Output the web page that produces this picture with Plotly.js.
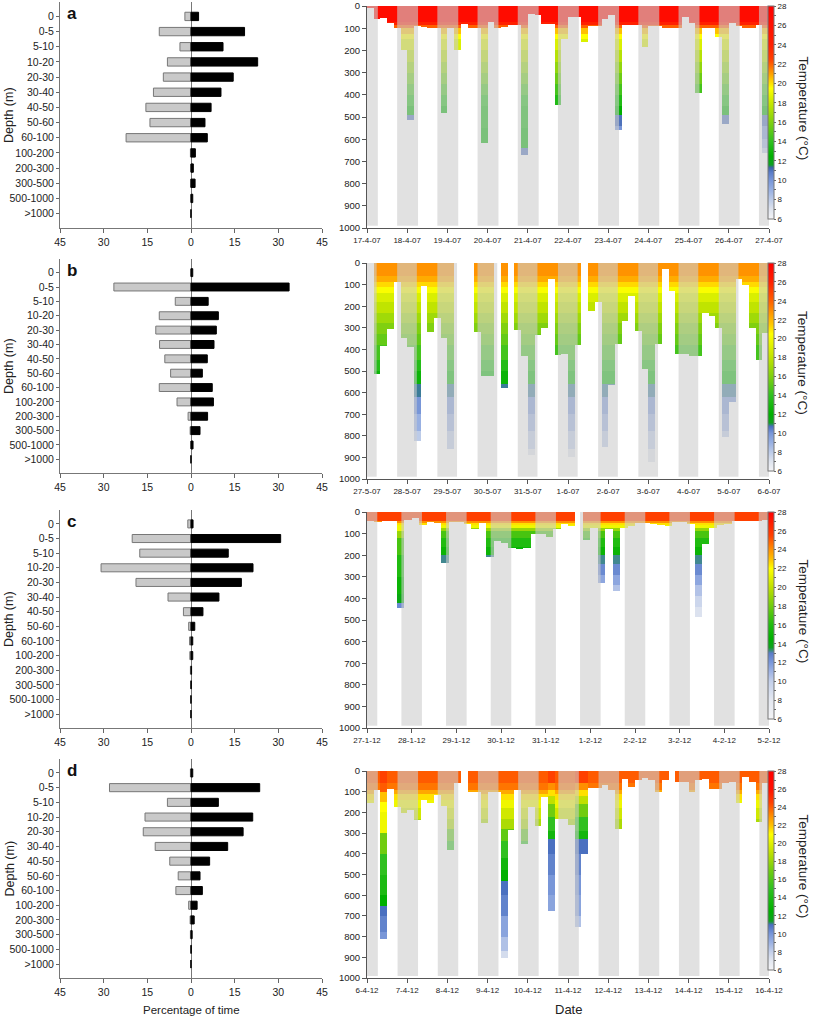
<!DOCTYPE html>
<html><head><meta charset="utf-8">
<script src="https://cdn.plot.ly/plotly-3.0.1.min.js"></script>
<style>html,body{margin:0;padding:0;background:#fff}</style>
</head><body>
<div id="chart" style="width:813px;height:1019px"></div>
<script>
// ---------- DATA ----------
const depthBins = ['0','0-5','5-10','10-20','20-30','30-40','40-50','50-60','60-100','100-200','200-300','300-500','500-1000','>1000'];

// Percentage of time (night = grey, day = black)
const nightA = [2.1,10.9,3.8,8.1,9.5,12.9,15.5,14.1,22.3,0.2,0,0.1,0,0];
const dayA   = [2.6,18.4,11.0,22.9,14.5,10.3,6.9,4.8,5.6,1.5,0.8,1.4,0.6,0];
const nightB = [0,26.5,5.4,10.9,12.1,10.8,9.0,7.0,10.9,4.8,1.0,0.3,0,0];
const dayB   = [0.6,33.7,5.9,9.4,8.7,7.9,5.6,3.9,7.3,7.7,5.7,3.1,0.7,0];
const nightC = [1.1,20.2,17.6,30.9,18.9,7.9,2.6,0.8,0.5,0.4,0.2,0.1,0,0];
const dayC   = [0.7,30.8,12.8,21.3,17.3,9.6,4.1,1.3,0.6,0.6,0.2,0.1,0,0];
const nightD = [0.2,28.0,8.1,15.8,16.4,12.3,7.3,4.4,5.2,0.8,0.3,0.2,0.1,0];
const dayD   = [0.6,23.6,9.4,21.2,17.9,12.6,6.4,3.1,3.9,2.1,1.1,0.4,0.1,0];

// Date tick labels
const datesA = ['17-4-07','18-4-07','19-4-07','20-4-07','21-4-07','22-4-07','23-4-07','24-4-07','25-4-07','26-4-07','27-4-07'];
const datesB = ['27-5-07','28-5-07','29-5-07','30-5-07','31-5-07','1-6-07','2-6-07','3-6-07','4-6-07','5-6-07','6-6-07'];
const datesC = ['27-1-12','28-1-12','29-1-12','30-1-12','31-1-12','1-2-12','2-2-12','3-2-12','4-2-12','5-2-12'];
const datesD = ['6-4-12','7-4-12','8-4-12','9-4-12','10-4-12','11-4-12','12-4-12','13-4-12','14-4-12','15-4-12','16-4-12'];

// Maximum depth (m) per 4-hour bin
const maxDepthA = [10,60,57,75,100,200, 515,90,95,100,100,480, 100,200,80,100,100,615, 70,100,95,85,85,672,
  35,40,80,80,445,150, 50,50,160,90,90,60, 40,560,85,85,85,185, 90,90,100,100,100,50,
  75,390,100,100,140,530, 75,90,100,100,85,660];
const maxDepthB = [null,515,385,305,90,347, 388,827,106,322,254,347, 858,null,null,null,318,524, 524,null,578,null,308,430,
  890,334,300,75,427,422, 900,380,null,220,180,850, 565,375,270,157,316,491, 920,373,31,131,419,420,
  430,430,231,245,300,805, 645,75,100,300,450,325];
const maxDepthC = [40,45,40,40,445,35, 30,60,45,50,235,45, 45,55,80,50,210,135, 145,165,170,165,100,100,
  115,80,55,65,null,130, 75,330,80,365,75,65, 50,50,55,60,65,45, 45,55,485,150,75,60, 55,40,40,40,40,35];
const maxDepthD = [155,90,810,85,175,205, 190,235,140,155,115,170, 380,60,null,100,100,250, 100,100,905,285,90,355,
  175,265,125,675,230,230, 260,755,400,80,80,70, 90,280,40,75,45,35, 45,100,45,null,55,55,
  100,45,40,85,85,60, 55,155,30,55,245,60];

// Water temperature profiles (layer top depth, m -> temperature, degC)
const profDepthA = [0,70,85,100,125,150,200,250,300,350,400,450,490,540,600,640];
const profTempA  = [26.5,24,22,20.5,19.5,18.5,17.5,16.5,15.5,14.5,13.5,12.5,11.0,10.0,9.0,8.0];
const altDepthA  = [0,70,85,100,125,150,200,250,300,350,400,450,550,640];
const altTempA   = [26.5,24,22,20.5,19.5,18.5,17.5,16.5,15.5,14.5,13.5,13,12.5,11.0];
const altColsA   = [17,23];

const profDepthB = [0,60,90,110,140,180,230,280,330,380,450,500,560,620,700,780,860];
const profTempB  = [22.8,22.2,21.2,20.3,19,18,17,16,15.3,14.5,13.5,12.5,10.8,10,9,8,7];

const profDepthC = [0,40,50,60,75,90,120,160,200,240,290,340,390,440];
const profTempC  = [25.5,24,22.5,21.5,19,17,16,15,13.2,12.5,11.5,10.5,9.5,8.5];
const altDepthC  = [0,40,50,60,90,120,200,300,380,420];
const altTempC   = [25.5,24,22.5,21.5,19,17,16,15,14,12.5];
const altColsC   = [4];

const profDepthD = [0,60,90,110,140,180,230,280,340,420,480,530,600,700,800,870];
const profTempD  = [24,23.5,22.5,21.5,20.5,19.5,18.5,16.5,15,13.5,12.5,11,10.5,9.5,8.5,7.5];
const altDepthD  = [0,60,100,150,200,300,400,500,600,650,700,780];
const altTempD   = [24.5,24,22,21,20.5,17,15,14,12.5,11,10.5,10];
const altColsD   = [2];
const alt2DepthD = [0,60,90,120,160,220,290,330,400,500,600,700];
const alt2TempD  = [24.5,23,21.5,19,17,15,13.5,11,10.5,10,9.5,8.5];
const alt2ColsD  = [27,31,32];

// Night period (fraction of day: dusk / dawn)
const duskA = 0.75, dawnA = 0.27;
const duskB = 0.75, dawnB = 0.24;
const duskC = 0.77, dawnC = 0.23;
const duskD = 0.76, dawnD = 0.27;

// ---------- STYLE ----------
const FONT = "Arial, 'Liberation Sans', sans-serif";
const W = 813, H = 1019;
const scaleA = [[6,'#f4f4f6'],[7,'#dfe4ee'],[8,'#bccbe8'],[9,'#98b0e2'],[10,'#7896d8'],[10.8,'#5a7cc8'],[11.3,'#3c64a8'],[11.6,'#10a020'],[12.5,'#00b000'],[14,'#30c020'],[16,'#80d010'],[18,'#c8e800'],[19.5,'#ffff00'],[20.5,'#ffc000'],[21.5,'#ff8000'],[22.5,'#ff4000'],[24,'#ff2000'],[28,'#ff0000']];
const scaleB = [[6,'#f4f4f6'],[7,'#dfe4ee'],[8,'#bccbe8'],[9,'#98b0e2'],[10,'#7896d8'],[10.7,'#4a70c0'],[11.1,'#10a020'],[12,'#00b000'],[14,'#30c020'],[16,'#80d010'],[18,'#c0e400'],[20.5,'#ffff00'],[21.5,'#ffc800'],[22.5,'#ffa000'],[24,'#ff6000'],[26,'#ff2000'],[28,'#ff0000']];
const scaleC = [[6,'#f4f4f6'],[8,'#e4e8f0'],[10,'#c4d0ea'],[11,'#a0b4e4'],[12,'#7a98da'],[13,'#5a7cc8'],[13.6,'#10a020'],[14.5,'#00b000'],[16,'#20bc10'],[18,'#70cc10'],[20,'#c0e000'],[22,'#ffff00'],[23,'#ffc000'],[24,'#ff9000'],[25.5,'#ff4000'],[28,'#ff0000']];
const scaleD = [[6,'#f4f4f6'],[7,'#e4e8f0'],[8,'#c4d0ea'],[9,'#9cb2e2'],[10,'#7896d8'],[11,'#4a70c0'],[11.4,'#10a020'],[12.5,'#00b000'],[15,'#30c020'],[17,'#70cc10'],[19,'#c0e000'],[21,'#ffff00'],[22,'#ffc000'],[23,'#ff9000'],[24.5,'#ff4000'],[26,'#ff1000'],[28,'#ff0000']];

const panels = [
  {letter:'a', night:nightA, day:dayA, dates:datesA, maxD:maxDepthA, scale:scaleA, dusk:duskA, dawn:dawnA,
   profiles:[[profDepthA,profTempA,null],[altDepthA,altTempA,altColsA]],
   L:[2,228], R:[6,228], CB:[6,219]},
  {letter:'b', night:nightB, day:dayB, dates:datesB, maxD:maxDepthB, scale:scaleB, dusk:duskB, dawn:dawnB,
   profiles:[[profDepthB,profTempB,null]],
   L:[259,473], R:[263,479], CB:[263,471]},
  {letter:'c', night:nightC, day:dayC, dates:datesC, maxD:maxDepthC, scale:scaleC, dusk:duskC, dawn:dawnC,
   profiles:[[profDepthC,profTempC,null],[altDepthC,altTempC,altColsC]],
   L:[510,728], R:[512,728], CB:[512,719]},
  {letter:'d', night:nightD, day:dayD, dates:datesD, maxD:maxDepthD, scale:scaleD, dusk:duskD, dawn:dawnD,
   profiles:[[profDepthD,profTempD,null],[altDepthD,altTempD,altColsD],[alt2DepthD,alt2TempD,alt2ColsD]],
   L:[759,978], R:[771,978], CB:[771,970]}
];

const LX = [60,322], RX = [367,769];
const px = v => v / W;
const py = v => 1 - v / H;
const ydom = a => [py(a[1]), py(a[0])];

const traces = [], shapes = [], annotations = [];
const layout = {
  width: W, height: H, margin:{l:0,r:0,t:0,b:0}, paper_bgcolor:'#fff', plot_bgcolor:'#fff',
  showlegend:false, barmode:'overlay', font:{family:FONT, color:'#222'}
};

function tempAt(depths, temps, d) {
  let t = temps[0];
  for (let k=0;k<depths.length;k++) if (depths[k] <= d) t = temps[k];
  return t;
}

panels.forEach((p, i) => {
  const nL = 2*i+1, nR = 2*i+2;
  const xl = nL === 1 ? 'x' : 'x'+nL, yl = nL === 1 ? 'y' : 'y'+nL;
  const xr = 'x'+nR, yr = 'y'+nR;
  const nDays = p.dates.length - 1;

  // left: percentage of time
  traces.push({type:'bar', orientation:'h', y:depthBins, x:p.night.map(v=>-v), xaxis:xl, yaxis:yl, width:0.55,
    marker:{color:'#c9c9c9', line:{color:'#777', width:1}}, hoverinfo:'skip'});
  traces.push({type:'bar', orientation:'h', y:depthBins, x:p.day, xaxis:xl, yaxis:yl, width:0.55,
    marker:{color:'#000', line:{color:'#000', width:1}}, hoverinfo:'skip'});

  layout['xaxis'+(nL===1?'':nL)] = {domain:[px(LX[0]),px(LX[1])], anchor:yl, range:[-45,45],
    tickvals:[-45,-30,-15,0,15,30,45], ticktext:['45','30','15','0','15','30','45'],
    ticks:'outside', ticklen:4, tickcolor:'#666', showline:true, linecolor:'#777', linewidth:1,
    zeroline:true, zerolinecolor:'#777', zerolinewidth:1, showgrid:false, tickfont:{size:10.5}, automargin:false};
  layout['yaxis'+(nL===1?'':nL)] = {domain:ydom(p.L), anchor:xl, type:'category', categoryarray:depthBins,
    range:[13.95,-0.95], ticks:'outside', ticklen:3, tickcolor:'#666', showline:true, linecolor:'#777', linewidth:1,
    showgrid:false, zeroline:false, tickfont:{size:10.5}, automargin:false, ticklabeloverflow:'allow'};

  // right: depth-time temperature section
  const xEdges = []; for (let c=0;c<=p.maxD.length;c++) xEdges.push(c/6);
  const yEdges = []; for (let d=0; d<=1000; d+=5) yEdges.push(d);
  const colProf = p.maxD.map((_, c) => {
    let pr = p.profiles[0];
    p.profiles.forEach(q => { if (q[2] && q[2].indexOf(c) >= 0) pr = q; });
    return pr;
  });
  const z = [];
  for (let r=0; r<yEdges.length-1; r++) {
    const mid = yEdges[r] + 2.5;
    z.push(p.maxD.map((m, c) => (m != null && mid <= m) ? tempAt(colProf[c][0], colProf[c][1], mid) : null));
  }
  const cs = p.scale.map(s => [(s[0]-6)/22, s[1]]);
  const tv = [], tt = [];
  for (let t=6;t<=28;t++){ tv.push(t); tt.push(t%2===0 ? String(t) : ''); }
  traces.push({type:'heatmap', x:xEdges, y:yEdges, z:z, xaxis:xr, yaxis:yr, zmin:6, zmax:28, colorscale:cs,
    hoverinfo:'skip', xgap:0, ygap:0,
    colorbar:{x:px(768), xanchor:'left', thickness:6, thicknessmode:'pixels', len:(p.CB[1]-p.CB[0])/H, lenmode:'fraction',
      y:py(p.CB[0]), yanchor:'top', outlinewidth:1, outlinecolor:'#777', xpad:0, ypad:0,
      tickvals:tv, ticktext:tt, ticks:'outside', ticklen:2, tickcolor:'#666', tickfont:{size:8},
      ticklabeloverflow:'allow', title:{text:''}}});

  annotations.push({xref:'paper', yref:'paper', x:px(803), y:py((p.CB[0]+p.CB[1])/2 - 4), text:'Temperature (°C)',
    textangle:90, showarrow:false, xanchor:'center', yanchor:'middle', font:{size:13.5, color:'#222'}});

  layout['xaxis'+nR] = {domain:[px(RX[0]),px(RX[1])], anchor:yr, range:[0,nDays],
    tickvals:p.dates.map((_,k)=>k), ticktext:p.dates, ticks:'outside', ticklen:4, tickcolor:'#555',
    showline:true, linecolor:'#555', linewidth:1, showgrid:false, zeroline:false, tickfont:{size:8}, automargin:false};
  layout['yaxis'+nR] = {domain:ydom(p.R), anchor:xr, range:[1000,0], tick0:0, dtick:100,
    ticks:'outside', ticklen:4, tickcolor:'#555', showline:true, linecolor:'#555', linewidth:1,
    showgrid:false, zeroline:false, tickfont:{size:9.5}, automargin:false, ticklabeloverflow:'allow'};

  // night shading
  const nights = [[0, p.dawn]];
  for (let d=0; d<nDays; d++) nights.push([d+p.dusk, Math.min(d+1+p.dawn, nDays)]);
  nights.forEach(n => shapes.push({type:'rect', xref:xr, yref:yr, x0:n[0], x1:n[1], y0:0, y1:990,
    fillcolor:'rgba(205,205,205,0.6)', line:{width:0}, layer:'above'}));

  // panel letter & y title
  annotations.push({xref:'paper', yref:'paper', x:px(LX[0]+5), y:py(p.L[0]+11), text:'<b>'+p.letter+'</b>',
    showarrow:false, xanchor:'left', yanchor:'middle', font:{size:17, color:'#111'}});
  annotations.push({xref:'paper', yref:'paper', x:px(9), y:py((p.L[0]+p.L[1])/2), text:'Depth (m)', textangle:-90,
    showarrow:false, xanchor:'center', yanchor:'middle', font:{size:12.5, color:'#222'}});
});

annotations.push({xref:'paper', yref:'paper', x:px(191), y:py(1010), text:'Percentage of time', showarrow:false,
  xanchor:'center', yanchor:'middle', font:{size:11.5, color:'#222'}});
annotations.push({xref:'paper', yref:'paper', x:px(568), y:py(1009), text:'Date', showarrow:false,
  xanchor:'center', yanchor:'middle', font:{size:13, color:'#222'}});

layout.shapes = shapes;
layout.annotations = annotations;

Plotly.newPlot('chart', traces, layout, {staticPlot:true, displayModeBar:false});
</script>
</body></html>
